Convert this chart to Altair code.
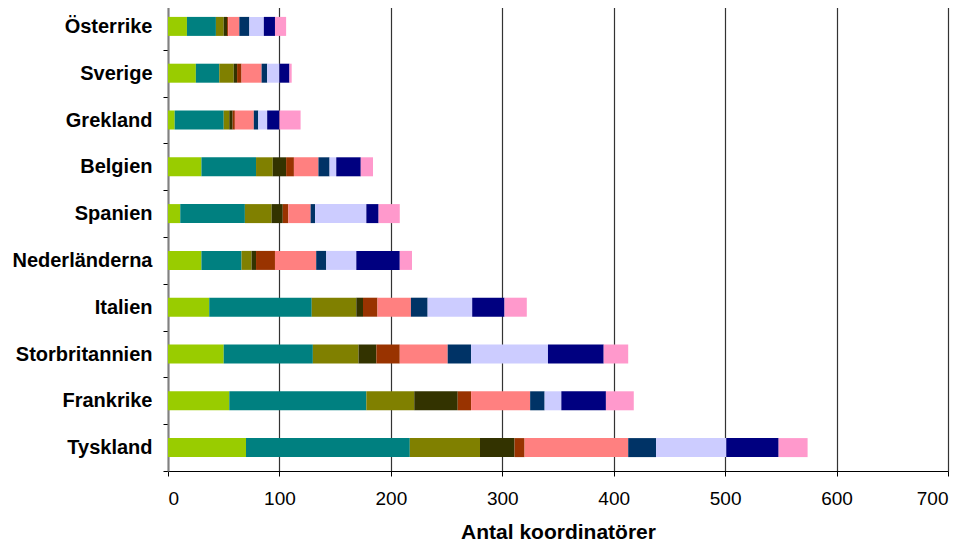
import altair as alt
import pandas as pd

countries = ["Österrike", "Sverige", "Grekland", "Belgien", "Spanien",
             "Nederländerna", "Italien", "Storbritannien", "Frankrike", "Tyskland"]

series_names = ["Serie 1", "Serie 2", "Serie 3", "Serie 4", "Serie 5",
                "Serie 6", "Serie 7", "Serie 8", "Serie 9", "Serie 10"]

colors = ["#99CC00", "#008080", "#808000", "#333300", "#993300",
          "#FF8080", "#003366", "#CCCCFF", "#000080", "#FF99CC"]

# values per series, in the order of `countries`
s1 = [17, 25, 6, 30, 11, 30, 37, 50, 55, 70]
s2 = [26, 21, 44, 49, 58, 36, 92, 80, 123, 147]
s3 = [7, 13, 5, 15, 24, 9, 40, 41, 43, 63]
s4 = [3, 3, 3, 12, 10, 4, 6, 16, 39, 31]
s5 = [1, 4, 2, 7, 5, 17, 13, 21, 12, 9]
s6 = [10, 18, 17, 22, 20, 37, 30, 43, 53, 93]
s7 = [9, 5, 4, 10, 4, 9, 15, 21, 13, 25]
s8 = [13, 11, 8, 6, 46, 27, 40, 69, 15, 63]
s9 = [10, 9, 11, 22, 11, 39, 29, 50, 40, 47]
s10 = [10, 2, 19, 11, 19, 11, 20, 22, 25, 26]

all_series = [s1, s2, s3, s4, s5, s6, s7, s8, s9, s10]

rows = []
for i, (name, vals) in enumerate(zip(series_names, all_series)):
    for c, v in zip(countries, vals):
        rows.append({"land": c, "serie": name, "ordning": i, "antal": v})
df = pd.DataFrame(rows)

chart = alt.Chart(df).mark_bar(size=19).encode(
    y=alt.Y("land:N", sort=countries, title=None,
            scale=alt.Scale(paddingInner=0, paddingOuter=0),
            axis=alt.Axis(tickBand="extent", labelFontSize=20, labelFontWeight="bold",
                          labelFont="Liberation Sans", labelColor="#000",
                          tickSize=5, tickColor="#000", labelPadding=11,
                          domainColor="#808080", domainWidth=2, grid=False)),
    x=alt.X("antal:Q", title="Antal koordinatörer",
            scale=alt.Scale(domain=[0, 700], nice=False),
            axis=alt.Axis(values=[0, 100, 200, 300, 400, 500, 600, 700],
                          labelFontSize=19, labelFont="Liberation Sans", labelColor="#000",
                          titleFontSize=21, titleFont="Liberation Sans", titleFontWeight="bold",
                          titleColor="#000", titlePadding=13,
                          tickSize=5, tickColor="#000", labelPadding=13,
                          domainColor="#000", grid=True, gridColor="#333",
                          gridWidth=1.2)),
    color=alt.Color("serie:N", scale=alt.Scale(domain=series_names, range=colors),
                    legend=None),
    order=alt.Order("ordning:Q", sort="ascending"),
).properties(
    width=780, height=468,
    autosize=alt.AutoSizeParams(type="none"),
    padding={"left": 160, "top": -5, "right": 14, "bottom": 77},
).configure_view(stroke=None)

chart.save("out.html", embed_options={"renderer": "svg", "actions": False})
